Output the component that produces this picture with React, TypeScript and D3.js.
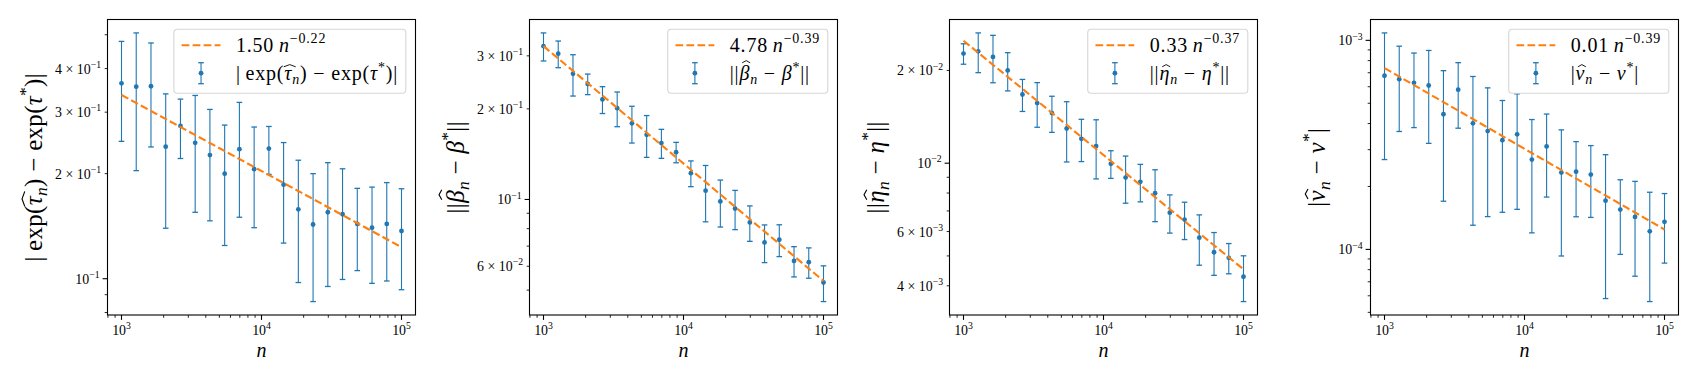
import React, { useEffect, useRef } from "react";
import * as d3 from "d3";

// ---------------- data ----------------
const nValues = [1000, 1274, 1624, 2069, 2637, 3360, 4281, 5456, 6952, 8859, 11288, 14384, 18330, 23357, 29764, 37927, 48329, 61585, 78476, 100000];

const tauMean = [0.363, 0.355, 0.356, 0.239, 0.274, 0.245, 0.226, 0.2, 0.235, 0.206, 0.236, 0.186, 0.158, 0.143, 0.155, 0.153, 0.1435, 0.14, 0.1435, 0.137];
const tauErr = [0.1155, 0.151, 0.1175, 0.0995, 0.053, 0.09, 0.0795, 0.0755, 0.085, 0.066, 0.037, 0.0595, 0.0605, 0.057, 0.06, 0.0535, 0.038, 0.043, 0.045, 0.044];

const betaMean = [0.323, 0.305, 0.2616, 0.242, 0.215, 0.201, 0.179, 0.164, 0.154, 0.1436, 0.1223, 0.107, 0.0985, 0.0933, 0.0839, 0.072, 0.0735, 0.0625, 0.0619, 0.053];
const betaErr = [0.0345, 0.031, 0.041, 0.019, 0.022, 0.0265, 0.025, 0.026, 0.017, 0.0112, 0.012, 0.0227, 0.0175, 0.0139, 0.0113, 0.0103, 0.0089, 0.0072, 0.00715, 0.0072];

const etaMean = [0.02268, 0.02307, 0.02212, 0.02, 0.01671, 0.01567, 0.01454, 0.01296, 0.012, 0.01136, 0.00995, 0.00898, 0.0087, 0.00799, 0.00691, 0.00656, 0.00573, 0.00514, 0.00493, 0.00428];
const etaErr = [0.00173, 0.0034, 0.00388, 0.00284, 0.00199, 0.00259, 0.00195, 0.00287, 0.00188, 0.00247, 0.001025, 0.001565, 0.00121, 0.00153, 0.00098, 0.00091, 0.001065, 0.000815, 0.000555, 0.000725];

const nuMean = [6.77e-4, 6.52e-4, 6.26e-4, 6.08e-4, 4.43e-4, 5.81e-4, 4.01e-4, 3.68e-4, 3.33e-4, 3.55e-4, 2.69e-4, 3.11e-4, 2.33e-4, 2.355e-4, 2.28e-4, 1.71e-4, 1.55e-4, 1.43e-4, 1.22e-4, 1.355e-4];
const nuErr = [4.08e-4, 2.855e-4, 2.435e-4, 2.865e-4, 2.73e-4, 2.01e-4, 2.705e-4, 2.245e-4, 1.825e-4, 1.995e-4, 1.49e-4, 1.33e-4, 1.4e-4, 0.9225e-4, 0.8575e-4, 1.128e-4, 0.6035e-4, 0.6855e-4, 0.657e-4, 0.495e-4];

const fitCoef = [1.515, 4.78, 0.324, 0.0106];
const fitExp = [-0.218, -0.39, -0.371, -0.386];
const fitCoefLabels = ["1.50", "4.78", "0.33", "0.01"];
const fitExpLabels = ["\u22120.22", "\u22120.39", "\u22120.37", "\u22120.39"];

const xTickExponents = [3, 4, 5];

// ---------------- math text ----------------
type Part = { t: string; it?: boolean; sup?: boolean; sub?: boolean; hat?: number; hatW?: number };

const errLabels: Part[][] = [
  [{ t: "|\u2009exp(" }, { t: "\u03C4", it: true, hat: 0.78, hatW: 0.3 }, { t: "n", it: true, sub: true }, { t: ") \u2212 exp(" }, { t: "\u03C4", it: true }, { t: "*", sup: true }, { t: ")|" }],
  [{ t: "||" }, { t: "\u03B2", it: true, hat: 0.98, hatW: 0.2 }, { t: "n", it: true, sub: true }, { t: " \u2212 " }, { t: "\u03B2", it: true }, { t: "*", sup: true }, { t: "||" }],
  [{ t: "||" }, { t: "\u03B7", it: true, hat: 0.78, hatW: 0.2 }, { t: "n", it: true, sub: true }, { t: " \u2212 " }, { t: "\u03B7", it: true }, { t: "*", sup: true }, { t: "||" }],
  [{ t: "|" }, { t: "\u03BD", it: true, hat: 0.78, hatW: 0.2 }, { t: "n", it: true, sub: true }, { t: " \u2212 " }, { t: "\u03BD", it: true }, { t: "*", sup: true }, { t: "|" }],
];

const FONT = "'Liberation Serif', 'DejaVu Serif', serif";

type Placed = { p: Part; idx: number };

function renderMath(text: any, parts: Part[], size: number): Placed[] {
  let offset = 0;
  let idx = 0;
  const out: Placed[] = [];
  parts.forEach((p) => {
    const target = p.sup ? -0.42 * size : p.sub ? 0.2 * size : 0;
    text
      .append("tspan")
      .attr("dy", target - offset)
      .attr("font-size", p.sup || p.sub ? size * 0.7 : size)
      .attr("font-style", p.it ? "italic" : "normal")
      .text(p.t);
    out.push({ p, idx });
    idx += p.t.length;
    offset = target;
  });
  return out;
}

function addHats(text: any, container: any, placed: Placed[], size: number, baseline: number) {
  const el = text.node() as SVGTextElement;
  placed.forEach(({ p, idx }) => {
    if (!p.hat) return;
    const ext = el.getExtentOfChar(idx);
    const cx = ext.x + ext.width / 2 + 0.07 * size;
    const apex = baseline - p.hat * size;
    const hw = (p.hatW || 0.2) * size;
    const drop = 0.11 * size;
    container
      .append("path")
      .attr("d", `M${cx - hw},${apex + drop}L${cx},${apex}L${cx + hw},${apex + drop}`)
      .attr("fill", "none")
      .attr("stroke", "#000")
      .attr("stroke-width", Math.max(0.9, size * 0.045))
      .attr("stroke-linejoin", "miter");
  });
}

// ---------------- layout ----------------
const W = 1699;
const H = 382;
const panelLefts = [107.5, 529.5, 949.5, 1370.5];
const panelW = 308;
const panelTop = 19.5;
const panelH = 295.5;
const BLUE = "#1f77b4";
const ORANGE = "#ff7f0e";

function draw(svgEl: SVGSVGElement) {
  const svg = d3.select(svgEl);
  svg.selectAll("*").remove();
  svg.append("rect").attr("width", W).attr("height", H).attr("fill", "#fff");

  const series = [
    [tauMean, tauErr],
    [betaMean, betaErr],
    [etaMean, etaErr],
    [nuMean, nuErr],
  ];

  series.forEach(([mean, err], pi) => {
    const left = panelLefts[pi];
    const right = left + panelW;
    const top = panelTop;
    const bottom = panelTop + panelH;
    const g = svg.append("g");

    const x = d3.scaleLog().domain([10 ** 2.9, 10 ** 5.1]).range([left, right]);

    const fit = (n: number) => fitCoef[pi] * Math.pow(n, fitExp[pi]);
    const n0 = nValues[0];
    const n1 = nValues[nValues.length - 1];
    const vals: number[] = [];
    mean.forEach((m, i) => {
      vals.push(m - err[i], m + err[i]);
    });
    vals.push(fit(n0), fit(n1));
    const lmin = Math.log10(d3.min(vals) as number);
    const lmax = Math.log10(d3.max(vals) as number);
    const pad = (lmax - lmin) * 0.05;
    const lo = 10 ** (lmin - pad);
    const hi = 10 ** (lmax + pad);
    const y = d3.scaleLog().domain([lo, hi]).range([bottom, top]);

    // ---- ticks ----
    const numdec = Math.log10(hi / lo);
    const labeled = numdec > 1 ? [1] : numdec > 0.4 ? [1, 2, 3, 4, 6] : [1, 2, 3, 4, 5, 6, 7, 8, 9];
    const tickG = g.append("g");
    const labelG = g.append("g");
    for (let e = Math.floor(Math.log10(lo)); e <= Math.ceil(Math.log10(hi)); e++) {
      for (let k = 1; k <= 9; k++) {
        const v = k * 10 ** e;
        if (v < lo || v > hi) continue;
        const yy = y(v);
        const major = k === 1;
        tickG
          .append("line")
          .attr("x1", left)
          .attr("x2", left - (major ? 4.9 : 2.8))
          .attr("y1", yy)
          .attr("y2", yy)
          .attr("stroke", "#000")
          .attr("stroke-width", major ? 1.1 : 0.85);
        if (labeled.includes(k)) {
          const t = labelG
            .append("text")
            .attr("x", left - (major ? 8 : 6.5))
            .attr("y", yy + 5)
            .attr("text-anchor", "end")
            .attr("font-family", FONT)
            .attr("fill", "#000");
          const ex = "\u2212" + String(-e);
          const parts: Part[] = major ? [{ t: "10" }, { t: ex, sup: true }] : [{ t: `${k} \u00D7 10` }, { t: ex, sup: true }];
          renderMath(t, parts, 13.9);
        }
      }
    }
    // x ticks
    for (let e = 2; e <= 5; e++) {
      for (let k = 1; k <= 9; k++) {
        const v = k * 10 ** e;
        const [d0, d1] = x.domain();
        if (v < d0 || v > d1) continue;
        const xx = x(v);
        const major = k === 1;
        tickG
          .append("line")
          .attr("x1", xx)
          .attr("x2", xx)
          .attr("y1", bottom)
          .attr("y2", bottom + (major ? 4.9 : 2.8))
          .attr("stroke", "#000")
          .attr("stroke-width", major ? 1.1 : 0.85);
      }
    }
    xTickExponents.forEach((e) => {
      const t = g
        .append("text")
        .attr("x", x(10 ** e))
        .attr("y", bottom + 20)
        .attr("text-anchor", "middle")
        .attr("font-family", FONT)
        .attr("fill", "#000");
      renderMath(t, [{ t: "10" }, { t: String(e), sup: true }], 13.9);
    });

    // x label
    g.append("text")
      .attr("x", (left + right) / 2)
      .attr("y", bottom + 42)
      .attr("text-anchor", "middle")
      .attr("font-family", FONT)
      .attr("font-style", "italic")
      .attr("font-size", 20)
      .text("n");

    // y label
    const YF = 25;
    const tb = (labelG.node() as SVGGElement).getBBox();
    const yl = g.append("g");
    const ylt = yl.append("text").attr("text-anchor", "middle").attr("font-family", FONT).attr("fill", "#000").attr("letter-spacing", 0.3);
    const ylPlaced = renderMath(ylt, errLabels[pi], YF);
    const lb = (ylt.node() as SVGTextElement).getBBox();
    const xr = tb.x - 4.5;
    const descent = 0.25 * YF;
    yl.attr("transform", `translate(${xr - Math.max(lb.y + lb.height, descent)},${(top + bottom) / 2}) rotate(-90)`);
    ylt.attr("x", -(lb.x + lb.width / 2)).attr("y", 0);
    addHats(ylt, yl, ylPlaced, YF, 0);

    // ---- data ----
    const dg = g.append("g");
    nValues.forEach((n, i) => {
      const xx = x(n);
      const y0 = y(mean[i] - err[i]);
      const y1 = y(mean[i] + err[i]);
      dg.append("line").attr("x1", xx).attr("x2", xx).attr("y1", y0).attr("y2", y1).attr("stroke", BLUE).attr("stroke-width", 1.1);
      [y0, y1].forEach((cy) => {
        dg.append("line").attr("x1", xx - 2.8).attr("x2", xx + 2.8).attr("y1", cy).attr("y2", cy).attr("stroke", BLUE).attr("stroke-width", 1.3);
      });
      dg.append("circle").attr("cx", xx).attr("cy", y(mean[i])).attr("r", 2.4).attr("fill", BLUE);
    });

    const line = d3
      .line<number>()
      .x((n) => x(n))
      .y((n) => y(fit(n)));
    g.append("path")
      .attr("d", line([n0, n1]) as string)
      .attr("fill", "none")
      .attr("stroke", ORANGE)
      .attr("stroke-width", 2.1)
      .attr("stroke-dasharray", "7.7 3.3");

    // frame
    g.append("rect")
      .attr("x", left)
      .attr("y", top)
      .attr("width", panelW)
      .attr("height", panelH)
      .attr("fill", "none")
      .attr("stroke", "#000")
      .attr("stroke-width", 1.1);

    // ---- legend ----
    const LF = 19.4;
    const TF = 20;
    const lg = g.append("g");
    const box = lg.append("rect");
    const t1 = lg.append("text").attr("font-family", FONT).attr("fill", "#000").attr("letter-spacing", 0.8);
    renderMath(t1, [{ t: fitCoefLabels[pi] + "\u2009" }, { t: "n", it: true }, { t: fitExpLabels[pi], sup: true }], TF);
    const t2 = lg.append("text").attr("font-family", FONT).attr("fill", "#000").attr("letter-spacing", 0.8);
    const t2Placed = renderMath(t2, errLabels[pi], TF);
    const tw = Math.max((t1.node() as SVGTextElement).getBBox().width, (t2.node() as SVGTextElement).getBBox().width);
    const bp = 0.4 * LF;
    const hl = 2 * LF;
    const htp = 0.8 * LF;
    const legW = bp + hl + htp + tw + bp;
    const legH = 64;
    const lx = right - 0.5 * LF - legW;
    const ly = top + 0.5 * LF;
    box
      .attr("x", lx)
      .attr("y", ly)
      .attr("width", legW)
      .attr("height", legH)
      .attr("rx", 3.5)
      .attr("fill", "rgba(255,255,255,0.8)")
      .attr("stroke", "#d6d6d6")
      .attr("stroke-width", 1.1);
    const r1 = ly + 16;
    const r2 = ly + 44;
    const hx0 = lx + bp;
    lg.append("line")
      .attr("x1", hx0)
      .attr("x2", hx0 + hl)
      .attr("y1", r1)
      .attr("y2", r1)
      .attr("stroke", ORANGE)
      .attr("stroke-width", 2.1)
      .attr("stroke-dasharray", "7.7 3.3");
    const hc = hx0 + hl / 2;
    lg.append("line").attr("x1", hc).attr("x2", hc).attr("y1", r2 - 10.5).attr("y2", r2 + 10.5).attr("stroke", BLUE).attr("stroke-width", 1.1);
    [r2 - 10.5, r2 + 10.5].forEach((cy) => {
      lg.append("line").attr("x1", hc - 2.8).attr("x2", hc + 2.8).attr("y1", cy).attr("y2", cy).attr("stroke", BLUE).attr("stroke-width", 1.3);
    });
    lg.append("circle").attr("cx", hc).attr("cy", r2).attr("r", 2.4).attr("fill", BLUE);
    const tx = hx0 + hl + htp;
    t1.attr("x", tx).attr("y", r1 + 6.5);
    t2.attr("x", tx).attr("y", r2 + 7);
    addHats(t2, lg, t2Placed, TF, r2 + 7);
  });
}

export default function App() {
  const ref = useRef<SVGSVGElement>(null);
  useEffect(() => {
    if (ref.current) draw(ref.current);
  }, []);
  return <svg ref={ref} width={W} height={H} style={{ position: "absolute", left: 0, top: 0 }} />;
}
